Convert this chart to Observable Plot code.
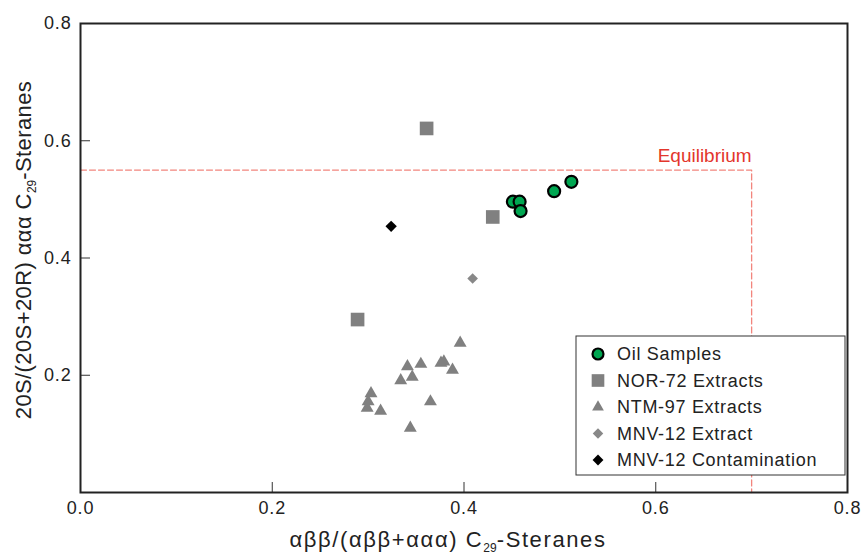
<!DOCTYPE html>
<html><head><meta charset="utf-8">
<script src="https://cdn.jsdelivr.net/npm/d3@7"></script>
<script src="https://cdn.jsdelivr.net/npm/@observablehq/plot@0.6"></script>
<style>
body{margin:0;background:#fff;}
#chart{position:relative;width:862px;height:556px;}
</style>
</head><body><div id="chart"></div>
<script>
// ---- data ----
const oilX = [0.451, 0.458, 0.459, 0.494, 0.512];
const oilY = [0.496, 0.496, 0.480, 0.514, 0.530];
const norX = [0.289, 0.361, 0.430];
const norY = [0.295, 0.621, 0.470];
const ntmX = [0.396, 0.341, 0.355, 0.376, 0.379, 0.388, 0.346, 0.334, 0.303, 0.300, 0.299, 0.313, 0.365, 0.344];
const ntmY = [0.255, 0.215, 0.219, 0.221, 0.223, 0.209, 0.197, 0.191, 0.169, 0.155, 0.144, 0.139, 0.155, 0.110];
const mnvExtX = [0.409];
const mnvExtY = [0.365];
const mnvConX = [0.324];
const mnvConY = [0.454];
const eqX = [0, 0.7, 0.7];
const eqY = [0.55, 0.55, 0];
const eqLabel = "Equilibrium";
const xTicks = [0, 0.2, 0.4, 0.6, 0.8];
const yTicks = [0.2, 0.4, 0.6, 0.8];
const xInner = [0.2, 0.4, 0.6];
const yInner = [0.2, 0.4, 0.6];
const legendNames = ["Oil Samples", "NOR-72 Extracts", "NTM-97 Extracts", "MNV-12 Extract", "MNV-12 Contamination"];

const toRows = (xs, ys) => xs.map((x, i) => ({x, y: ys[i]}));
const oil = toRows(oilX, oilY);
const nor = toRows(norX, norY);
const ntm = toRows(ntmX, ntmY);
const mnvExt = toRows(mnvExtX, mnvExtY);
const mnvCon = toRows(mnvConX, mnvConY);
const eq = toRows(eqX, eqY);

const FONT = "'Liberation Sans', Arial, sans-serif";
const W = 862, H = 556, ML = 80, MR = 15, MT = 23, MB = 64;
const PW = W - ML - MR, PH = H - MT - MB;

const chart = Plot.plot({
  width: W, height: H,
  marginLeft: ML, marginRight: MR, marginTop: MT, marginBottom: MB,
  style: {fontFamily: FONT, fontSize: "18px", color: "#222", background: "#fff"},
  x: {domain: [0, 0.8]},
  y: {domain: [0, 0.8]},
  marks: [
    Plot.line(eq, {x: "x", y: "y", stroke: "#f2857d", strokeWidth: 1.3, strokeDasharray: "6,3"}),
    Plot.text([eq[1]], {x: "x", y: "y", text: () => eqLabel, textAnchor: "end", dy: -14, fill: "#e3362c", fontSize: 19}),
    Plot.dot(ntm, {x: "x", y: "y", symbol: "triangle", r: 4.8, fill: "#808080"}),
    Plot.dot(nor, {x: "x", y: "y", symbol: "square", r: 7.7, fill: "#808080"}),
    Plot.dot(mnvExt, {x: "x", y: "y", symbol: "diamond2", r: 4.8, fill: "#888888"}),
    Plot.dot(mnvCon, {x: "x", y: "y", symbol: "diamond2", r: 5.1, fill: "#000"}),
    Plot.dot(oil, {x: "x", y: "y", r: 6, fill: "#00a651", stroke: "#000", strokeWidth: 2.2}),
    Plot.tickX(xInner, {x: d => d, insetTop: PH - 10, stroke: "#333"}),
    Plot.tickY(yInner, {y: d => d, insetRight: PW - 10, stroke: "#333"}),
    Plot.frame({stroke: "#222", strokeWidth: 2}),
    Plot.axisX(xTicks, {tickSize: 0, tickPadding: 9, tickFormat: d3.format(".1f"), label: null, fontSize: 18}),
    Plot.axisY(yTicks, {tickSize: 0, tickPadding: 9, tickFormat: d3.format(".1f"), label: null, fontSize: 18})
  ]
});
document.getElementById("chart").appendChild(chart);

const svg = d3.select(chart);
svg.selectAll("text").filter(function () { return /^0\.\d$/.test(this.textContent); })
  .style("font-size", "18px").style("letter-spacing", "0.8px");

// axis titles
const xt = svg.append("text").attr("x", 448).attr("y", 547).attr("text-anchor", "middle")
  .attr("font-family", FONT).attr("font-size", 22).attr("letter-spacing", "1.6px").attr("fill", "#222");
xt.append("tspan").text("αββ/(αββ+ααα) C");
xt.append("tspan").attr("font-size", 12).attr("letter-spacing", "0px").attr("dy", 5).text("29");
xt.append("tspan").attr("dy", -5).text("-Steranes");

const yt = svg.append("text").attr("transform", "translate(31,250) rotate(-90)").attr("text-anchor", "middle")
  .attr("font-family", FONT).attr("font-size", 22).attr("letter-spacing", "0.4px").attr("fill", "#222");
yt.append("tspan").text("20S/(20S+20R) ααα C");
yt.append("tspan").attr("font-size", 12).attr("letter-spacing", "0px").attr("dy", 5).text("29");
yt.append("tspan").attr("dy", -5).text("-Steranes");

// legend
const lg = svg.append("g");
lg.append("rect").attr("x", 576).attr("y", 336).attr("width", 269).attr("height", 139)
  .attr("fill", "#fff").attr("stroke", "#333").attr("stroke-width", 1);
const styles = [
  {type: d3.symbolCircle, size: Math.PI * 30, fill: "#00a651", stroke: "#000", sw: 2.2},
  {type: d3.symbolSquare, size: 160, fill: "#808080", stroke: "none", sw: 0},
  {type: d3.symbolTriangle, size: 60, fill: "#808080", stroke: "none", sw: 0},
  {type: d3.symbolDiamond2, size: 70, fill: "#888888", stroke: "none", sw: 0},
  {type: d3.symbolDiamond2, size: 75, fill: "#000", stroke: "none", sw: 0}
];
legendNames.forEach((name, i) => {
  const cy = 354 + i * 26.5;
  const s = styles[i];
  lg.append("path").attr("d", d3.symbol().type(s.type).size(s.size)())
    .attr("transform", `translate(598,${cy})`)
    .attr("fill", s.fill).attr("stroke", s.stroke).attr("stroke-width", s.sw);
  lg.append("text").attr("x", 617).attr("y", cy).attr("dy", "0.35em").attr("text-anchor", "start")
    .attr("letter-spacing", "0.7px")
    .attr("font-family", FONT).attr("font-size", 18).attr("fill", "#222").text(name);
});
</script>
</body></html>
